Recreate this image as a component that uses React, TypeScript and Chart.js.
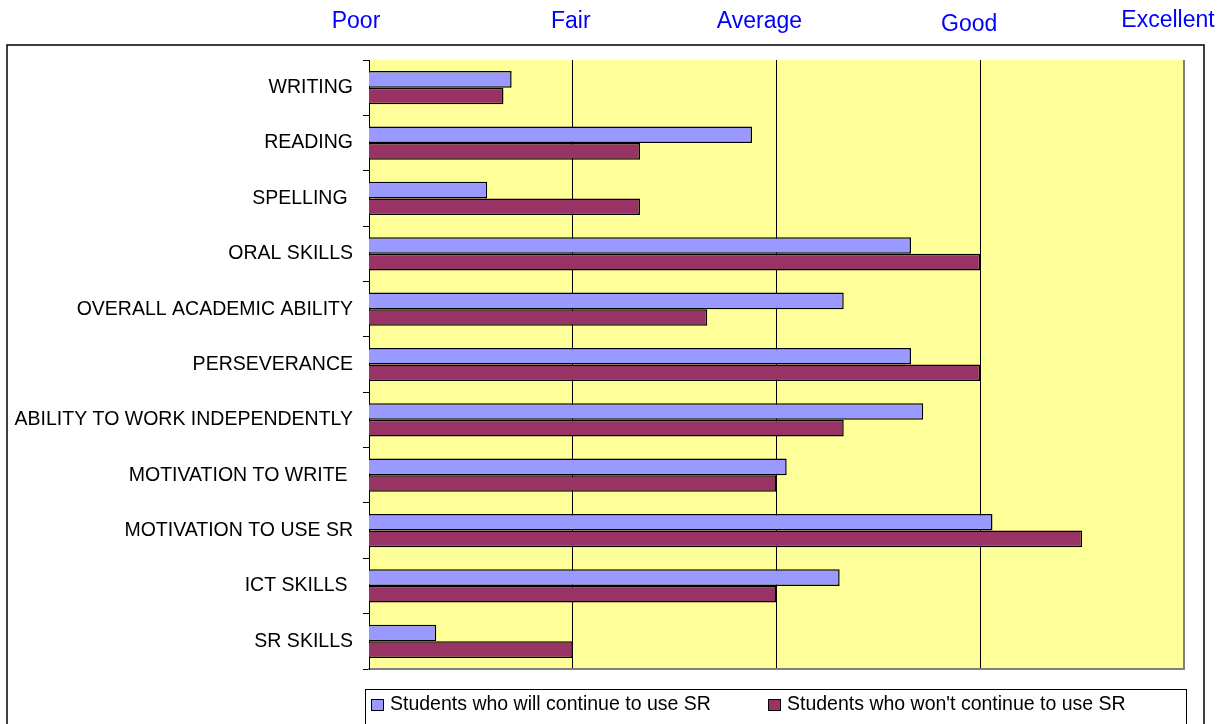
import React, { useEffect, useRef } from "react";
import { Chart, registerables } from "chart.js";

Chart.register(...registerables);

const categories = [
  "WRITING",
  "READING",
  "SPELLING ",
  "ORAL SKILLS",
  "OVERALL ACADEMIC ABILITY",
  "PERSEVERANCE",
  "ABILITY TO WORK INDEPENDENTLY",
  "MOTIVATION TO WRITE ",
  "MOTIVATION TO USE SR",
  "ICT SKILLS ",
  "SR SKILLS",
];

const continueUsing = [1.7, 2.88, 1.58, 3.66, 3.33, 3.66, 3.72, 3.05, 4.06, 3.31, 1.33];
const notContinuing = [1.66, 2.33, 2.33, 4.0, 2.66, 4.0, 3.33, 3.0, 4.5, 3.0, 2.0];

const seriesNames = [
  "Students who will continue to use SR",
  "Students who won't continue to use SR",
];

const ratingLabels = ["Poor", "Fair", "Average", "Good", "Excellent"];
const ratingValues = [1, 2, 3, 4, 5];

const FONT = '"Liberation Sans", Arial, sans-serif';

const framePlugin = {
  id: "frame",
  beforeDraw(chart: any) {
    const { ctx, chartArea } = chart;
    ctx.save();
    ctx.fillStyle = "#FFFF99";
    ctx.fillRect(chartArea.left, chartArea.top, chartArea.right - chartArea.left, chartArea.bottom - chartArea.top);
    ctx.restore();
  },
  afterDraw(chart: any) {
    const { ctx } = chart;
    const xs = chart.scales.x;
    ctx.save();
    // outer border
    ctx.strokeStyle = "#000";
    ctx.lineWidth = 1.5;
    ctx.strokeRect(7, 45, 1197, 700);
    // rating labels
    const dx = [-13, -2, -17, -11, -16];
    const ys = [22, 22, 22, 25, 21];
    ctx.fillStyle = "#0000FF";
    ctx.font = "23px " + FONT;
    ctx.textAlign = "center";
    ctx.textBaseline = "middle";
    ratingLabels.forEach((lab, i) => {
      ctx.fillText(lab, xs.getPixelForValue(ratingValues[i]) + dx[i], ys[i]);
    });
    // legend
    ctx.lineWidth = 1;
    ctx.strokeStyle = "#000";
    ctx.strokeRect(365.5, 689.5, 821, 60);
    const lx = [371, 768];
    ctx.font = "19.5px " + FONT;
    ctx.textAlign = "left";
    ctx.textBaseline = "middle";
    chart.data.datasets.forEach((ds: any, i: number) => {
      ctx.fillStyle = ds.backgroundColor;
      ctx.fillRect(lx[i], 699, 13, 12);
      ctx.strokeStyle = "#000";
      ctx.strokeRect(lx[i] + 0.5, 699.5, 12, 11);
      ctx.fillStyle = "#000";
      ctx.fillText(ds.label, lx[i] + 19, 705);
    });
    ctx.restore();
  },
};

export default function App() {
  const ref = useRef<HTMLCanvasElement | null>(null);

  useEffect(() => {
    if (!ref.current) return;
    const chart = new Chart(ref.current, {
      type: "bar",
      data: {
        labels: categories,
        datasets: [
          {
            label: seriesNames[0],
            data: continueUsing,
            backgroundColor: "#9999FF",
            borderColor: "#000",
            borderWidth: 1.5,
          },
          {
            label: seriesNames[1],
            data: notContinuing,
            backgroundColor: "#993366",
            borderColor: "#000",
            borderWidth: 1.5,
          },
        ],
      },
      options: {
        indexAxis: "y",
        animation: false,
        responsive: true,
        maintainAspectRatio: false,
        layout: { padding: { top: 60, right: 40, bottom: 55, left: 0 } },
        datasets: { bar: { categoryPercentage: 0.6, barPercentage: 1.0 } },
        plugins: {
          legend: { display: false },
          tooltip: { enabled: false },
        },
        scales: {
          x: {
            min: 1,
            max: 5,
            ticks: { display: false, stepSize: 1 },
            grid: {
              drawTicks: false,
              color: (c: any) => (c.tick && c.tick.value === 5 ? "#808080" : "#000"),
              lineWidth: (c: any) => (c.tick && c.tick.value === 5 ? 2 : 1),
            },
            border: { display: true, color: "#808080", width: 2 },
            afterFit: (s: any) => {
              s.height = 0;
            },
          },
          y: {
            ticks: {
              color: "#000",
              font: { family: FONT, size: 19.5 },
              padding: 10,
            },
            grid: {
              drawOnChartArea: false,
              drawTicks: true,
              tickLength: 6,
              color: "#000",
              offset: true,
            },
            border: { display: true, color: "#000", width: 1 },
            afterFit: (s: any) => {
              s.width = 369;
            },
          },
        },
      },
      plugins: [framePlugin],
    });
    return () => chart.destroy();
  }, []);

  return (
    <div style={{ position: "fixed", left: 0, top: 0, width: 1224, height: 724, background: "#fff" }}>
      <canvas ref={ref} />
    </div>
  );
}
